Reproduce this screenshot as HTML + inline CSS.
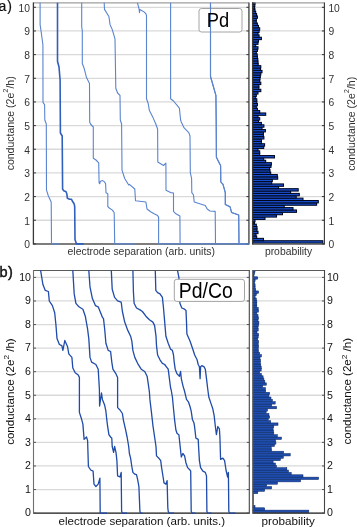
<!DOCTYPE html>
<html><head><meta charset="utf-8"><style>
html,body{margin:0;padding:0;background:#fff;}
svg{display:block;font-family:'Liberation Sans', sans-serif;will-change:transform;}
</style></head><body>
<svg width="357" height="527" viewBox="0 0 357 527">
<rect width="357" height="527" fill="#fff"/>
<line x1="33.4" y1="243.90" x2="248.9" y2="243.90" stroke="#d9d9d9" stroke-width="1.3"/>
<line x1="252.6" y1="243.90" x2="324.4" y2="243.90" stroke="#d9d9d9" stroke-width="1.3"/>
<line x1="33.4" y1="220.24" x2="248.9" y2="220.24" stroke="#d9d9d9" stroke-width="1.3"/>
<line x1="252.6" y1="220.24" x2="324.4" y2="220.24" stroke="#d9d9d9" stroke-width="1.3"/>
<line x1="33.4" y1="196.58" x2="248.9" y2="196.58" stroke="#d9d9d9" stroke-width="1.3"/>
<line x1="252.6" y1="196.58" x2="324.4" y2="196.58" stroke="#d9d9d9" stroke-width="1.3"/>
<line x1="33.4" y1="172.92" x2="248.9" y2="172.92" stroke="#d9d9d9" stroke-width="1.3"/>
<line x1="252.6" y1="172.92" x2="324.4" y2="172.92" stroke="#d9d9d9" stroke-width="1.3"/>
<line x1="33.4" y1="149.26" x2="248.9" y2="149.26" stroke="#d9d9d9" stroke-width="1.3"/>
<line x1="252.6" y1="149.26" x2="324.4" y2="149.26" stroke="#d9d9d9" stroke-width="1.3"/>
<line x1="33.4" y1="125.60" x2="248.9" y2="125.60" stroke="#d9d9d9" stroke-width="1.3"/>
<line x1="252.6" y1="125.60" x2="324.4" y2="125.60" stroke="#d9d9d9" stroke-width="1.3"/>
<line x1="33.4" y1="101.94" x2="248.9" y2="101.94" stroke="#d9d9d9" stroke-width="1.3"/>
<line x1="252.6" y1="101.94" x2="324.4" y2="101.94" stroke="#d9d9d9" stroke-width="1.3"/>
<line x1="33.4" y1="78.28" x2="248.9" y2="78.28" stroke="#d9d9d9" stroke-width="1.3"/>
<line x1="252.6" y1="78.28" x2="324.4" y2="78.28" stroke="#d9d9d9" stroke-width="1.3"/>
<line x1="33.4" y1="54.62" x2="248.9" y2="54.62" stroke="#d9d9d9" stroke-width="1.3"/>
<line x1="252.6" y1="54.62" x2="324.4" y2="54.62" stroke="#d9d9d9" stroke-width="1.3"/>
<line x1="33.4" y1="30.96" x2="248.9" y2="30.96" stroke="#d9d9d9" stroke-width="1.3"/>
<line x1="252.6" y1="30.96" x2="324.4" y2="30.96" stroke="#d9d9d9" stroke-width="1.3"/>
<line x1="33.4" y1="7.30" x2="248.9" y2="7.30" stroke="#d9d9d9" stroke-width="1.3"/>
<line x1="252.6" y1="7.30" x2="324.4" y2="7.30" stroke="#d9d9d9" stroke-width="1.3"/>
<rect x="252.60" y="240.73" width="70.20" height="2.37" fill="#1a4fd0" stroke="#000820" stroke-width="1.05"/>
<rect x="252.60" y="238.37" width="10.90" height="2.37" fill="#1a4fd0" stroke="#000820" stroke-width="1.05"/>
<rect x="252.60" y="236.00" width="4.10" height="2.37" fill="#1a4fd0" stroke="#000820" stroke-width="1.05"/>
<rect x="252.60" y="233.64" width="3.40" height="2.37" fill="#1a4fd0" stroke="#000820" stroke-width="1.05"/>
<rect x="252.60" y="231.27" width="5.40" height="2.37" fill="#1a4fd0" stroke="#000820" stroke-width="1.05"/>
<rect x="252.60" y="228.90" width="4.40" height="2.37" fill="#1a4fd0" stroke="#000820" stroke-width="1.05"/>
<rect x="252.60" y="226.54" width="4.40" height="2.37" fill="#1a4fd0" stroke="#000820" stroke-width="1.05"/>
<rect x="252.60" y="224.17" width="3.70" height="2.37" fill="#1a4fd0" stroke="#000820" stroke-width="1.05"/>
<rect x="252.60" y="221.81" width="1.90" height="2.37" fill="#1a4fd0" stroke="#000820" stroke-width="1.05"/>
<rect x="252.60" y="219.44" width="2.40" height="2.37" fill="#1a4fd0" stroke="#000820" stroke-width="1.05"/>
<rect x="252.60" y="217.07" width="12.40" height="2.37" fill="#1a4fd0" stroke="#000820" stroke-width="1.05"/>
<rect x="252.60" y="214.71" width="23.90" height="2.37" fill="#1a4fd0" stroke="#000820" stroke-width="1.05"/>
<rect x="252.60" y="212.34" width="29.90" height="2.37" fill="#1a4fd0" stroke="#000820" stroke-width="1.05"/>
<rect x="252.60" y="209.98" width="43.90" height="2.37" fill="#1a4fd0" stroke="#000820" stroke-width="1.05"/>
<rect x="252.60" y="207.61" width="40.40" height="2.37" fill="#1a4fd0" stroke="#000820" stroke-width="1.05"/>
<rect x="252.60" y="205.24" width="31.60" height="2.37" fill="#1a4fd0" stroke="#000820" stroke-width="1.05"/>
<rect x="252.60" y="202.88" width="64.00" height="2.37" fill="#1a4fd0" stroke="#000820" stroke-width="1.05"/>
<rect x="252.60" y="200.51" width="65.70" height="2.37" fill="#1a4fd0" stroke="#000820" stroke-width="1.05"/>
<rect x="252.60" y="198.15" width="50.40" height="2.37" fill="#1a4fd0" stroke="#000820" stroke-width="1.05"/>
<rect x="252.60" y="195.78" width="43.60" height="2.37" fill="#1a4fd0" stroke="#000820" stroke-width="1.05"/>
<rect x="252.60" y="193.41" width="46.70" height="2.37" fill="#1a4fd0" stroke="#000820" stroke-width="1.05"/>
<rect x="252.60" y="191.05" width="38.00" height="2.37" fill="#1a4fd0" stroke="#000820" stroke-width="1.05"/>
<rect x="252.60" y="188.68" width="45.60" height="2.37" fill="#1a4fd0" stroke="#000820" stroke-width="1.05"/>
<rect x="252.60" y="186.32" width="26.00" height="2.37" fill="#1a4fd0" stroke="#000820" stroke-width="1.05"/>
<rect x="252.60" y="183.95" width="30.90" height="2.37" fill="#1a4fd0" stroke="#000820" stroke-width="1.05"/>
<rect x="252.60" y="181.58" width="19.10" height="2.37" fill="#1a4fd0" stroke="#000820" stroke-width="1.05"/>
<rect x="252.60" y="179.22" width="19.70" height="2.37" fill="#1a4fd0" stroke="#000820" stroke-width="1.05"/>
<rect x="252.60" y="176.85" width="25.10" height="2.37" fill="#1a4fd0" stroke="#000820" stroke-width="1.05"/>
<rect x="252.60" y="174.49" width="24.70" height="2.37" fill="#1a4fd0" stroke="#000820" stroke-width="1.05"/>
<rect x="252.60" y="172.12" width="18.10" height="2.37" fill="#1a4fd0" stroke="#000820" stroke-width="1.05"/>
<rect x="252.60" y="169.75" width="17.40" height="2.37" fill="#1a4fd0" stroke="#000820" stroke-width="1.05"/>
<rect x="252.60" y="167.39" width="17.00" height="2.37" fill="#1a4fd0" stroke="#000820" stroke-width="1.05"/>
<rect x="252.60" y="165.02" width="18.40" height="2.37" fill="#1a4fd0" stroke="#000820" stroke-width="1.05"/>
<rect x="252.60" y="162.66" width="18.80" height="2.37" fill="#1a4fd0" stroke="#000820" stroke-width="1.05"/>
<rect x="252.60" y="160.29" width="13.10" height="2.37" fill="#1a4fd0" stroke="#000820" stroke-width="1.05"/>
<rect x="252.60" y="157.92" width="11.10" height="2.37" fill="#1a4fd0" stroke="#000820" stroke-width="1.05"/>
<rect x="252.60" y="155.56" width="21.90" height="2.37" fill="#1a4fd0" stroke="#000820" stroke-width="1.05"/>
<rect x="252.60" y="153.19" width="7.10" height="2.37" fill="#1a4fd0" stroke="#000820" stroke-width="1.05"/>
<rect x="252.60" y="150.83" width="7.10" height="2.37" fill="#1a4fd0" stroke="#000820" stroke-width="1.05"/>
<rect x="252.60" y="148.46" width="5.40" height="2.37" fill="#1a4fd0" stroke="#000820" stroke-width="1.05"/>
<rect x="252.60" y="146.09" width="11.10" height="2.37" fill="#1a4fd0" stroke="#000820" stroke-width="1.05"/>
<rect x="252.60" y="143.73" width="12.00" height="2.37" fill="#1a4fd0" stroke="#000820" stroke-width="1.05"/>
<rect x="252.60" y="141.36" width="8.80" height="2.37" fill="#1a4fd0" stroke="#000820" stroke-width="1.05"/>
<rect x="252.60" y="139.00" width="8.80" height="2.37" fill="#1a4fd0" stroke="#000820" stroke-width="1.05"/>
<rect x="252.60" y="136.63" width="11.30" height="2.37" fill="#1a4fd0" stroke="#000820" stroke-width="1.05"/>
<rect x="252.60" y="134.26" width="10.80" height="2.37" fill="#1a4fd0" stroke="#000820" stroke-width="1.05"/>
<rect x="252.60" y="131.90" width="10.80" height="2.37" fill="#1a4fd0" stroke="#000820" stroke-width="1.05"/>
<rect x="252.60" y="129.53" width="12.80" height="2.37" fill="#1a4fd0" stroke="#000820" stroke-width="1.05"/>
<rect x="252.60" y="127.17" width="9.40" height="2.37" fill="#1a4fd0" stroke="#000820" stroke-width="1.05"/>
<rect x="252.60" y="124.80" width="11.30" height="2.37" fill="#1a4fd0" stroke="#000820" stroke-width="1.05"/>
<rect x="252.60" y="122.43" width="8.80" height="2.37" fill="#1a4fd0" stroke="#000820" stroke-width="1.05"/>
<rect x="252.60" y="120.07" width="5.90" height="2.37" fill="#1a4fd0" stroke="#000820" stroke-width="1.05"/>
<rect x="252.60" y="117.70" width="7.10" height="2.37" fill="#1a4fd0" stroke="#000820" stroke-width="1.05"/>
<rect x="252.60" y="115.34" width="5.40" height="2.37" fill="#1a4fd0" stroke="#000820" stroke-width="1.05"/>
<rect x="252.60" y="112.97" width="13.10" height="2.37" fill="#1a4fd0" stroke="#000820" stroke-width="1.05"/>
<rect x="252.60" y="110.60" width="7.10" height="2.37" fill="#1a4fd0" stroke="#000820" stroke-width="1.05"/>
<rect x="252.60" y="108.24" width="4.80" height="2.37" fill="#1a4fd0" stroke="#000820" stroke-width="1.05"/>
<rect x="252.60" y="105.87" width="3.70" height="2.37" fill="#1a4fd0" stroke="#000820" stroke-width="1.05"/>
<rect x="252.60" y="103.51" width="4.80" height="2.37" fill="#1a4fd0" stroke="#000820" stroke-width="1.05"/>
<rect x="252.60" y="101.14" width="4.20" height="2.37" fill="#1a4fd0" stroke="#000820" stroke-width="1.05"/>
<rect x="252.60" y="98.77" width="4.20" height="2.37" fill="#1a4fd0" stroke="#000820" stroke-width="1.05"/>
<rect x="252.60" y="96.41" width="3.10" height="2.37" fill="#1a4fd0" stroke="#000820" stroke-width="1.05"/>
<rect x="252.60" y="94.04" width="3.70" height="2.37" fill="#1a4fd0" stroke="#000820" stroke-width="1.05"/>
<rect x="252.60" y="91.68" width="5.40" height="2.37" fill="#1a4fd0" stroke="#000820" stroke-width="1.05"/>
<rect x="252.60" y="89.31" width="8.20" height="2.37" fill="#1a4fd0" stroke="#000820" stroke-width="1.05"/>
<rect x="252.60" y="86.94" width="6.30" height="2.37" fill="#1a4fd0" stroke="#000820" stroke-width="1.05"/>
<rect x="252.60" y="84.58" width="6.30" height="2.37" fill="#1a4fd0" stroke="#000820" stroke-width="1.05"/>
<rect x="252.60" y="82.21" width="8.20" height="2.37" fill="#1a4fd0" stroke="#000820" stroke-width="1.05"/>
<rect x="252.60" y="79.85" width="7.10" height="2.37" fill="#1a4fd0" stroke="#000820" stroke-width="1.05"/>
<rect x="252.60" y="77.48" width="7.40" height="2.37" fill="#1a4fd0" stroke="#000820" stroke-width="1.05"/>
<rect x="252.60" y="75.11" width="7.70" height="2.37" fill="#1a4fd0" stroke="#000820" stroke-width="1.05"/>
<rect x="252.60" y="72.75" width="8.20" height="2.37" fill="#1a4fd0" stroke="#000820" stroke-width="1.05"/>
<rect x="252.60" y="70.38" width="9.40" height="2.37" fill="#1a4fd0" stroke="#000820" stroke-width="1.05"/>
<rect x="252.60" y="68.02" width="7.90" height="2.37" fill="#1a4fd0" stroke="#000820" stroke-width="1.05"/>
<rect x="252.60" y="65.65" width="8.20" height="2.37" fill="#1a4fd0" stroke="#000820" stroke-width="1.05"/>
<rect x="252.60" y="63.28" width="5.60" height="2.37" fill="#1a4fd0" stroke="#000820" stroke-width="1.05"/>
<rect x="252.60" y="60.92" width="5.40" height="2.37" fill="#1a4fd0" stroke="#000820" stroke-width="1.05"/>
<rect x="252.60" y="58.55" width="5.20" height="2.37" fill="#1a4fd0" stroke="#000820" stroke-width="1.05"/>
<rect x="252.60" y="56.19" width="4.80" height="2.37" fill="#1a4fd0" stroke="#000820" stroke-width="1.05"/>
<rect x="252.60" y="53.82" width="4.60" height="2.37" fill="#1a4fd0" stroke="#000820" stroke-width="1.05"/>
<rect x="252.60" y="51.45" width="3.70" height="2.37" fill="#1a4fd0" stroke="#000820" stroke-width="1.05"/>
<rect x="252.60" y="49.09" width="4.80" height="2.37" fill="#1a4fd0" stroke="#000820" stroke-width="1.05"/>
<rect x="252.60" y="46.72" width="5.40" height="2.37" fill="#1a4fd0" stroke="#000820" stroke-width="1.05"/>
<rect x="252.60" y="44.36" width="3.10" height="2.37" fill="#1a4fd0" stroke="#000820" stroke-width="1.05"/>
<rect x="252.60" y="41.99" width="5.40" height="2.37" fill="#1a4fd0" stroke="#000820" stroke-width="1.05"/>
<rect x="252.60" y="39.62" width="5.90" height="2.37" fill="#1a4fd0" stroke="#000820" stroke-width="1.05"/>
<rect x="252.60" y="37.26" width="8.80" height="2.37" fill="#1a4fd0" stroke="#000820" stroke-width="1.05"/>
<rect x="252.60" y="34.89" width="6.50" height="2.37" fill="#1a4fd0" stroke="#000820" stroke-width="1.05"/>
<rect x="252.60" y="32.53" width="5.40" height="2.37" fill="#1a4fd0" stroke="#000820" stroke-width="1.05"/>
<rect x="252.60" y="30.16" width="6.50" height="2.37" fill="#1a4fd0" stroke="#000820" stroke-width="1.05"/>
<rect x="252.60" y="27.79" width="7.10" height="2.37" fill="#1a4fd0" stroke="#000820" stroke-width="1.05"/>
<rect x="252.60" y="25.43" width="5.90" height="2.37" fill="#1a4fd0" stroke="#000820" stroke-width="1.05"/>
<rect x="252.60" y="23.06" width="4.80" height="2.37" fill="#1a4fd0" stroke="#000820" stroke-width="1.05"/>
<rect x="252.60" y="20.70" width="3.70" height="2.37" fill="#1a4fd0" stroke="#000820" stroke-width="1.05"/>
<rect x="252.60" y="18.33" width="3.70" height="2.37" fill="#1a4fd0" stroke="#000820" stroke-width="1.05"/>
<rect x="252.60" y="15.96" width="4.80" height="2.37" fill="#1a4fd0" stroke="#000820" stroke-width="1.05"/>
<rect x="252.60" y="13.60" width="4.00" height="2.37" fill="#1a4fd0" stroke="#000820" stroke-width="1.05"/>
<rect x="252.60" y="11.23" width="3.10" height="2.37" fill="#1a4fd0" stroke="#000820" stroke-width="1.05"/>
<rect x="252.60" y="8.87" width="2.40" height="2.37" fill="#1a4fd0" stroke="#000820" stroke-width="1.05"/>
<rect x="252.60" y="6.50" width="2.00" height="2.37" fill="#1a4fd0" stroke="#000820" stroke-width="1.05"/>
<rect x="252.60" y="4.13" width="2.20" height="2.37" fill="#1a4fd0" stroke="#000820" stroke-width="1.05"/>
<rect x="252.60" y="2.90" width="2.50" height="1.23" fill="#1a4fd0" stroke="#000820" stroke-width="1.05"/>
<line x1="33.4" y1="2.9" x2="248.9" y2="2.9" stroke="#888" stroke-width="1"/>
<line x1="33.4" y1="243.95" x2="248.9" y2="243.95" stroke="#5a5a5a" stroke-width="1.6"/>
<line x1="33.4" y1="2.4" x2="33.4" y2="244.54999999999998" stroke="#3a3a3a" stroke-width="1.3"/>
<line x1="248.9" y1="2.4" x2="248.9" y2="244.54999999999998" stroke="#707070" stroke-width="1.8"/>
<line x1="252.6" y1="2.9" x2="324.4" y2="2.9" stroke="#888" stroke-width="1"/>
<line x1="252.6" y1="243.95" x2="324.4" y2="243.95" stroke="#5a5a5a" stroke-width="1.6"/>
<line x1="252.6" y1="2.4" x2="252.6" y2="244.54999999999998" stroke="#3a3a3a" stroke-width="1.3"/>
<line x1="324.4" y1="2.4" x2="324.4" y2="244.54999999999998" stroke="#333" stroke-width="1.1"/>
<polyline points="40.10,2.80 40.10,24.70 41.00,30.60 42.90,44.70 43.00,102.40 44.60,104.70 44.80,120.00 46.30,124.00 46.50,190.20 48.40,196.00 51.20,202.00 51.50,243.90 59.20,243.90" fill="none" stroke="#5a84d0" stroke-width="1.1" stroke-linejoin="round" stroke-linecap="butt"/>
<polyline points="57.50,2.80 57.50,61.20 59.00,67.00 60.10,80.00 60.40,133.00 62.20,136.00 62.60,189.20 64.10,191.00 65.90,191.50 66.80,193.70 67.40,198.30 69.60,199.20 71.40,199.20 72.30,201.00 74.10,203.70 74.70,206.50 75.00,239.60 76.50,243.90 83.80,243.90" fill="none" stroke="#3060bc" stroke-width="1.6" stroke-linejoin="round" stroke-linecap="butt"/>
<polyline points="81.70,2.80 81.70,27.00 82.30,30.60 82.30,63.50 84.10,68.20 86.50,77.60 89.50,83.50 89.70,122.00 90.50,124.00 93.30,127.00 93.30,158.20 96.00,160.00 98.70,162.80 99.10,182.80 99.60,183.70 100.50,181.30 102.70,180.60 104.50,181.90 105.60,183.70 106.00,192.80 107.80,193.70 107.80,206.50 109.60,208.30 112.40,210.10 114.20,212.80 114.70,243.90 134.70,243.90" fill="none" stroke="#5a84d0" stroke-width="1.1" stroke-linejoin="round" stroke-linecap="butt"/>
<polyline points="104.20,2.80 104.50,9.40 108.90,16.50 110.10,24.70 112.20,29.40 115.00,38.80 115.80,88.20 117.60,93.00 120.00,95.30 120.30,120.00 121.60,124.00 122.00,170.20 124.70,178.50 128.70,185.00 129.40,184.40 134.80,189.00 135.50,200.80 145.90,202.00 147.00,209.00 150.60,211.80 154.10,213.80 157.60,215.60 158.60,217.30 158.60,243.90 180.00,243.90" fill="none" stroke="#5a84d0" stroke-width="1.1" stroke-linejoin="round" stroke-linecap="butt"/>
<polyline points="137.40,2.80 138.40,6.30 139.10,9.10 139.50,12.60 139.80,9.50 141.20,10.20 144.00,11.90 145.80,13.70 146.50,15.40 146.50,98.80 148.20,103.50 149.40,110.60 153.00,117.60 155.80,124.00 157.60,129.00 157.80,162.00 163.50,165.50 165.90,163.20 166.00,190.20 170.60,192.60 173.50,193.00 173.50,211.40 175.90,213.80 179.90,216.00 180.10,243.90 215.50,243.90" fill="none" stroke="#5a84d0" stroke-width="1.1" stroke-linejoin="round" stroke-linecap="butt"/>
<polyline points="170.60,2.80 170.60,98.80 173.50,101.00 179.40,108.20 180.60,120.00 181.30,122.00 184.10,127.90 188.80,132.60 190.00,136.00 190.30,172.60 191.60,178.50 191.80,192.60 193.50,195.00 194.20,202.00 205.30,205.50 207.20,209.00 210.00,211.00 215.20,211.40 215.50,243.90 238.80,243.90" fill="none" stroke="#5a84d0" stroke-width="1.1" stroke-linejoin="round" stroke-linecap="butt"/>
<polyline points="210.50,2.80 210.50,76.50 213.50,87.00 215.90,95.30 216.20,122.00 216.40,157.30 219.40,163.20 220.60,165.50 220.80,182.00 223.00,184.40 225.30,192.60 225.30,204.40 230.00,206.70 231.60,212.60 238.70,215.00 239.00,243.90 248.90,243.90" fill="none" stroke="#5a84d0" stroke-width="1.1" stroke-linejoin="round" stroke-linecap="butt"/>
<line x1="33.4" y1="243.90" x2="35.9" y2="243.90" stroke="#333" stroke-width="1"/>
<line x1="246.4" y1="243.90" x2="248.9" y2="243.90" stroke="#333" stroke-width="1"/>
<line x1="321.9" y1="243.90" x2="324.4" y2="243.90" stroke="#333" stroke-width="1"/>
<line x1="33.4" y1="220.24" x2="35.9" y2="220.24" stroke="#333" stroke-width="1"/>
<line x1="246.4" y1="220.24" x2="248.9" y2="220.24" stroke="#333" stroke-width="1"/>
<line x1="321.9" y1="220.24" x2="324.4" y2="220.24" stroke="#333" stroke-width="1"/>
<line x1="33.4" y1="196.58" x2="35.9" y2="196.58" stroke="#333" stroke-width="1"/>
<line x1="246.4" y1="196.58" x2="248.9" y2="196.58" stroke="#333" stroke-width="1"/>
<line x1="321.9" y1="196.58" x2="324.4" y2="196.58" stroke="#333" stroke-width="1"/>
<line x1="33.4" y1="172.92" x2="35.9" y2="172.92" stroke="#333" stroke-width="1"/>
<line x1="246.4" y1="172.92" x2="248.9" y2="172.92" stroke="#333" stroke-width="1"/>
<line x1="321.9" y1="172.92" x2="324.4" y2="172.92" stroke="#333" stroke-width="1"/>
<line x1="33.4" y1="149.26" x2="35.9" y2="149.26" stroke="#333" stroke-width="1"/>
<line x1="246.4" y1="149.26" x2="248.9" y2="149.26" stroke="#333" stroke-width="1"/>
<line x1="321.9" y1="149.26" x2="324.4" y2="149.26" stroke="#333" stroke-width="1"/>
<line x1="33.4" y1="125.60" x2="35.9" y2="125.60" stroke="#333" stroke-width="1"/>
<line x1="246.4" y1="125.60" x2="248.9" y2="125.60" stroke="#333" stroke-width="1"/>
<line x1="321.9" y1="125.60" x2="324.4" y2="125.60" stroke="#333" stroke-width="1"/>
<line x1="33.4" y1="101.94" x2="35.9" y2="101.94" stroke="#333" stroke-width="1"/>
<line x1="246.4" y1="101.94" x2="248.9" y2="101.94" stroke="#333" stroke-width="1"/>
<line x1="321.9" y1="101.94" x2="324.4" y2="101.94" stroke="#333" stroke-width="1"/>
<line x1="33.4" y1="78.28" x2="35.9" y2="78.28" stroke="#333" stroke-width="1"/>
<line x1="246.4" y1="78.28" x2="248.9" y2="78.28" stroke="#333" stroke-width="1"/>
<line x1="321.9" y1="78.28" x2="324.4" y2="78.28" stroke="#333" stroke-width="1"/>
<line x1="33.4" y1="54.62" x2="35.9" y2="54.62" stroke="#333" stroke-width="1"/>
<line x1="246.4" y1="54.62" x2="248.9" y2="54.62" stroke="#333" stroke-width="1"/>
<line x1="321.9" y1="54.62" x2="324.4" y2="54.62" stroke="#333" stroke-width="1"/>
<line x1="33.4" y1="30.96" x2="35.9" y2="30.96" stroke="#333" stroke-width="1"/>
<line x1="246.4" y1="30.96" x2="248.9" y2="30.96" stroke="#333" stroke-width="1"/>
<line x1="321.9" y1="30.96" x2="324.4" y2="30.96" stroke="#333" stroke-width="1"/>
<line x1="33.4" y1="7.30" x2="35.9" y2="7.30" stroke="#333" stroke-width="1"/>
<line x1="246.4" y1="7.30" x2="248.9" y2="7.30" stroke="#333" stroke-width="1"/>
<line x1="321.9" y1="7.30" x2="324.4" y2="7.30" stroke="#333" stroke-width="1"/>
<rect x="199" y="8.5" width="43.00" height="23.50" rx="2.5" fill="white" stroke="#9a9a9a" stroke-width="0.9"/>
<polyline points="210.50,2.80 210.50,76.50 213.50,87.00 215.90,95.30 216.20,122.00 216.40,157.30 219.40,163.20 220.60,165.50 220.80,182.00 223.00,184.40 225.30,192.60 225.30,204.40 230.00,206.70 231.60,212.60 238.70,215.00 239.00,243.90 248.90,243.90" fill="none" stroke="#5a84d0" stroke-width="1.1" stroke-linejoin="round"/>
<text x="206.8" y="27.3" font-size="21" textLength="22.4" lengthAdjust="spacingAndGlyphs" fill="#000">Pd</text>
<text transform="translate(30.0,248.35) scale(1.03,1)" font-size="10.0" text-anchor="end" fill="#333">0</text>
<text transform="translate(328.4,248.35) scale(1.03,1)" font-size="10.0" fill="#333">0</text>
<text transform="translate(30.0,224.69) scale(1.03,1)" font-size="10.0" text-anchor="end" fill="#333">1</text>
<text transform="translate(328.4,224.69) scale(1.03,1)" font-size="10.0" fill="#333">1</text>
<text transform="translate(30.0,201.03) scale(1.03,1)" font-size="10.0" text-anchor="end" fill="#333">2</text>
<text transform="translate(328.4,201.03) scale(1.03,1)" font-size="10.0" fill="#333">2</text>
<text transform="translate(30.0,177.37) scale(1.03,1)" font-size="10.0" text-anchor="end" fill="#333">3</text>
<text transform="translate(328.4,177.37) scale(1.03,1)" font-size="10.0" fill="#333">3</text>
<text transform="translate(30.0,153.71) scale(1.03,1)" font-size="10.0" text-anchor="end" fill="#333">4</text>
<text transform="translate(328.4,153.71) scale(1.03,1)" font-size="10.0" fill="#333">4</text>
<text transform="translate(30.0,130.05) scale(1.03,1)" font-size="10.0" text-anchor="end" fill="#333">5</text>
<text transform="translate(328.4,130.05) scale(1.03,1)" font-size="10.0" fill="#333">5</text>
<text transform="translate(30.0,106.39) scale(1.03,1)" font-size="10.0" text-anchor="end" fill="#333">6</text>
<text transform="translate(328.4,106.39) scale(1.03,1)" font-size="10.0" fill="#333">6</text>
<text transform="translate(30.0,82.73) scale(1.03,1)" font-size="10.0" text-anchor="end" fill="#333">7</text>
<text transform="translate(328.4,82.73) scale(1.03,1)" font-size="10.0" fill="#333">7</text>
<text transform="translate(30.0,59.07) scale(1.03,1)" font-size="10.0" text-anchor="end" fill="#333">8</text>
<text transform="translate(328.4,59.07) scale(1.03,1)" font-size="10.0" fill="#333">8</text>
<text transform="translate(30.0,35.41) scale(1.03,1)" font-size="10.0" text-anchor="end" fill="#333">9</text>
<text transform="translate(328.4,35.41) scale(1.03,1)" font-size="10.0" fill="#333">9</text>
<text transform="translate(30.0,11.75) scale(1.03,1)" font-size="10.0" text-anchor="end" fill="#333">10</text>
<text transform="translate(328.4,11.75) scale(1.03,1)" font-size="10.0" fill="#333">10</text>
<text x="67.5" y="255.4" font-size="10.5" textLength="147.5" lengthAdjust="spacingAndGlyphs" fill="#333">electrode separation (arb. units)</text>
<text x="264.9" y="255.4" font-size="10.3" textLength="47.3" lengthAdjust="spacingAndGlyphs" fill="#333">probability</text>
<text transform="translate(14.3,170.3) rotate(-90)" font-size="10.9" textLength="94" lengthAdjust="spacingAndGlyphs" fill="#333">conductance (2e<tspan dy="-6.0" font-size="7.85">2</tspan><tspan dy="6.0">/h)</tspan></text>
<text transform="translate(354.8,170.8) rotate(-90)" font-size="10.9" textLength="94" lengthAdjust="spacingAndGlyphs" fill="#333">conductance (2e<tspan dy="-6.0" font-size="7.85">2</tspan><tspan dy="6.0">/h)</tspan></text>
<text x="-1.6" y="10.8" font-size="14" letter-spacing="1.0" fill="#111" stroke="#111" stroke-width="0.2">a)</text>
<line x1="33.5" y1="513.10" x2="249.3" y2="513.10" stroke="#d9d9d9" stroke-width="1.3"/>
<line x1="252.6" y1="513.10" x2="324.5" y2="513.10" stroke="#d9d9d9" stroke-width="1.3"/>
<line x1="33.5" y1="489.53" x2="249.3" y2="489.53" stroke="#d9d9d9" stroke-width="1.3"/>
<line x1="252.6" y1="489.53" x2="324.5" y2="489.53" stroke="#d9d9d9" stroke-width="1.3"/>
<line x1="33.5" y1="465.96" x2="249.3" y2="465.96" stroke="#d9d9d9" stroke-width="1.3"/>
<line x1="252.6" y1="465.96" x2="324.5" y2="465.96" stroke="#d9d9d9" stroke-width="1.3"/>
<line x1="33.5" y1="442.39" x2="249.3" y2="442.39" stroke="#d9d9d9" stroke-width="1.3"/>
<line x1="252.6" y1="442.39" x2="324.5" y2="442.39" stroke="#d9d9d9" stroke-width="1.3"/>
<line x1="33.5" y1="418.82" x2="249.3" y2="418.82" stroke="#d9d9d9" stroke-width="1.3"/>
<line x1="252.6" y1="418.82" x2="324.5" y2="418.82" stroke="#d9d9d9" stroke-width="1.3"/>
<line x1="33.5" y1="395.25" x2="249.3" y2="395.25" stroke="#d9d9d9" stroke-width="1.3"/>
<line x1="252.6" y1="395.25" x2="324.5" y2="395.25" stroke="#d9d9d9" stroke-width="1.3"/>
<line x1="33.5" y1="371.68" x2="249.3" y2="371.68" stroke="#d9d9d9" stroke-width="1.3"/>
<line x1="252.6" y1="371.68" x2="324.5" y2="371.68" stroke="#d9d9d9" stroke-width="1.3"/>
<line x1="33.5" y1="348.11" x2="249.3" y2="348.11" stroke="#d9d9d9" stroke-width="1.3"/>
<line x1="252.6" y1="348.11" x2="324.5" y2="348.11" stroke="#d9d9d9" stroke-width="1.3"/>
<line x1="33.5" y1="324.54" x2="249.3" y2="324.54" stroke="#d9d9d9" stroke-width="1.3"/>
<line x1="252.6" y1="324.54" x2="324.5" y2="324.54" stroke="#d9d9d9" stroke-width="1.3"/>
<line x1="33.5" y1="300.97" x2="249.3" y2="300.97" stroke="#d9d9d9" stroke-width="1.3"/>
<line x1="252.6" y1="300.97" x2="324.5" y2="300.97" stroke="#d9d9d9" stroke-width="1.3"/>
<line x1="33.5" y1="277.40" x2="249.3" y2="277.40" stroke="#d9d9d9" stroke-width="1.3"/>
<line x1="252.6" y1="277.40" x2="324.5" y2="277.40" stroke="#d9d9d9" stroke-width="1.3"/>
<rect x="252.60" y="510.14" width="56.20" height="2.36" fill="#1f4eae" stroke="#0d2a68" stroke-width="0.55"/>
<rect x="252.60" y="507.79" width="12.10" height="2.36" fill="#1f4eae" stroke="#0d2a68" stroke-width="0.55"/>
<rect x="252.60" y="505.43" width="2.40" height="2.36" fill="#1f4eae" stroke="#0d2a68" stroke-width="0.55"/>
<rect x="252.60" y="503.07" width="0.70" height="2.36" fill="#1f4eae" stroke="#0d2a68" stroke-width="0.55"/>
<rect x="252.60" y="500.71" width="0.70" height="2.36" fill="#1f4eae" stroke="#0d2a68" stroke-width="0.55"/>
<rect x="252.60" y="498.36" width="0.70" height="2.36" fill="#1f4eae" stroke="#0d2a68" stroke-width="0.55"/>
<rect x="252.60" y="496.00" width="0.70" height="2.36" fill="#1f4eae" stroke="#0d2a68" stroke-width="0.55"/>
<rect x="252.60" y="493.64" width="0.70" height="2.36" fill="#1f4eae" stroke="#0d2a68" stroke-width="0.55"/>
<rect x="252.60" y="491.29" width="5.20" height="2.36" fill="#1f4eae" stroke="#0d2a68" stroke-width="0.55"/>
<rect x="252.60" y="488.93" width="12.10" height="2.36" fill="#1f4eae" stroke="#0d2a68" stroke-width="0.55"/>
<rect x="252.60" y="486.57" width="19.00" height="2.36" fill="#1f4eae" stroke="#0d2a68" stroke-width="0.55"/>
<rect x="252.60" y="484.22" width="14.10" height="2.36" fill="#1f4eae" stroke="#0d2a68" stroke-width="0.55"/>
<rect x="252.60" y="481.86" width="24.90" height="2.36" fill="#1f4eae" stroke="#0d2a68" stroke-width="0.55"/>
<rect x="252.60" y="479.50" width="48.00" height="2.36" fill="#1f4eae" stroke="#0d2a68" stroke-width="0.55"/>
<rect x="252.60" y="477.14" width="66.00" height="2.36" fill="#1f4eae" stroke="#0d2a68" stroke-width="0.55"/>
<rect x="252.60" y="474.79" width="50.40" height="2.36" fill="#1f4eae" stroke="#0d2a68" stroke-width="0.55"/>
<rect x="252.60" y="472.43" width="38.60" height="2.36" fill="#1f4eae" stroke="#0d2a68" stroke-width="0.55"/>
<rect x="252.60" y="470.07" width="35.90" height="2.36" fill="#1f4eae" stroke="#0d2a68" stroke-width="0.55"/>
<rect x="252.60" y="467.72" width="34.20" height="2.36" fill="#1f4eae" stroke="#0d2a68" stroke-width="0.55"/>
<rect x="252.60" y="465.36" width="23.90" height="2.36" fill="#1f4eae" stroke="#0d2a68" stroke-width="0.55"/>
<rect x="252.60" y="463.00" width="22.90" height="2.36" fill="#1f4eae" stroke="#0d2a68" stroke-width="0.55"/>
<rect x="252.60" y="460.65" width="20.50" height="2.36" fill="#1f4eae" stroke="#0d2a68" stroke-width="0.55"/>
<rect x="252.60" y="458.29" width="27.80" height="2.36" fill="#1f4eae" stroke="#0d2a68" stroke-width="0.55"/>
<rect x="252.60" y="455.93" width="30.70" height="2.36" fill="#1f4eae" stroke="#0d2a68" stroke-width="0.55"/>
<rect x="252.60" y="453.57" width="37.60" height="2.36" fill="#1f4eae" stroke="#0d2a68" stroke-width="0.55"/>
<rect x="252.60" y="451.22" width="31.10" height="2.36" fill="#1f4eae" stroke="#0d2a68" stroke-width="0.55"/>
<rect x="252.60" y="448.86" width="19.00" height="2.36" fill="#1f4eae" stroke="#0d2a68" stroke-width="0.55"/>
<rect x="252.60" y="446.50" width="18.60" height="2.36" fill="#1f4eae" stroke="#0d2a68" stroke-width="0.55"/>
<rect x="252.60" y="444.15" width="21.90" height="2.36" fill="#1f4eae" stroke="#0d2a68" stroke-width="0.55"/>
<rect x="252.60" y="441.79" width="23.30" height="2.36" fill="#1f4eae" stroke="#0d2a68" stroke-width="0.55"/>
<rect x="252.60" y="439.43" width="22.90" height="2.36" fill="#1f4eae" stroke="#0d2a68" stroke-width="0.55"/>
<rect x="252.60" y="437.08" width="28.90" height="2.36" fill="#1f4eae" stroke="#0d2a68" stroke-width="0.55"/>
<rect x="252.60" y="434.72" width="24.70" height="2.36" fill="#1f4eae" stroke="#0d2a68" stroke-width="0.55"/>
<rect x="252.60" y="432.36" width="21.20" height="2.36" fill="#1f4eae" stroke="#0d2a68" stroke-width="0.55"/>
<rect x="252.60" y="430.00" width="20.90" height="2.36" fill="#1f4eae" stroke="#0d2a68" stroke-width="0.55"/>
<rect x="252.60" y="427.65" width="20.50" height="2.36" fill="#1f4eae" stroke="#0d2a68" stroke-width="0.55"/>
<rect x="252.60" y="425.29" width="21.20" height="2.36" fill="#1f4eae" stroke="#0d2a68" stroke-width="0.55"/>
<rect x="252.60" y="422.93" width="25.40" height="2.36" fill="#1f4eae" stroke="#0d2a68" stroke-width="0.55"/>
<rect x="252.60" y="420.58" width="18.10" height="2.36" fill="#1f4eae" stroke="#0d2a68" stroke-width="0.55"/>
<rect x="252.60" y="418.22" width="15.60" height="2.36" fill="#1f4eae" stroke="#0d2a68" stroke-width="0.55"/>
<rect x="252.60" y="415.86" width="17.00" height="2.36" fill="#1f4eae" stroke="#0d2a68" stroke-width="0.55"/>
<rect x="252.60" y="413.51" width="16.30" height="2.36" fill="#1f4eae" stroke="#0d2a68" stroke-width="0.55"/>
<rect x="252.60" y="411.15" width="13.50" height="2.36" fill="#1f4eae" stroke="#0d2a68" stroke-width="0.55"/>
<rect x="252.60" y="408.79" width="14.90" height="2.36" fill="#1f4eae" stroke="#0d2a68" stroke-width="0.55"/>
<rect x="252.60" y="406.43" width="24.00" height="2.36" fill="#1f4eae" stroke="#0d2a68" stroke-width="0.55"/>
<rect x="252.60" y="404.08" width="19.10" height="2.36" fill="#1f4eae" stroke="#0d2a68" stroke-width="0.55"/>
<rect x="252.60" y="401.72" width="22.60" height="2.36" fill="#1f4eae" stroke="#0d2a68" stroke-width="0.55"/>
<rect x="252.60" y="399.36" width="19.80" height="2.36" fill="#1f4eae" stroke="#0d2a68" stroke-width="0.55"/>
<rect x="252.60" y="397.01" width="18.40" height="2.36" fill="#1f4eae" stroke="#0d2a68" stroke-width="0.55"/>
<rect x="252.60" y="394.65" width="16.30" height="2.36" fill="#1f4eae" stroke="#0d2a68" stroke-width="0.55"/>
<rect x="252.60" y="392.29" width="17.00" height="2.36" fill="#1f4eae" stroke="#0d2a68" stroke-width="0.55"/>
<rect x="252.60" y="389.94" width="13.10" height="2.36" fill="#1f4eae" stroke="#0d2a68" stroke-width="0.55"/>
<rect x="252.60" y="387.58" width="12.80" height="2.36" fill="#1f4eae" stroke="#0d2a68" stroke-width="0.55"/>
<rect x="252.60" y="385.22" width="10.00" height="2.36" fill="#1f4eae" stroke="#0d2a68" stroke-width="0.55"/>
<rect x="252.60" y="382.86" width="13.70" height="2.36" fill="#1f4eae" stroke="#0d2a68" stroke-width="0.55"/>
<rect x="252.60" y="380.51" width="12.20" height="2.36" fill="#1f4eae" stroke="#0d2a68" stroke-width="0.55"/>
<rect x="252.60" y="378.15" width="11.30" height="2.36" fill="#1f4eae" stroke="#0d2a68" stroke-width="0.55"/>
<rect x="252.60" y="375.79" width="10.50" height="2.36" fill="#1f4eae" stroke="#0d2a68" stroke-width="0.55"/>
<rect x="252.60" y="373.44" width="8.80" height="2.36" fill="#1f4eae" stroke="#0d2a68" stroke-width="0.55"/>
<rect x="252.60" y="371.08" width="7.10" height="2.36" fill="#1f4eae" stroke="#0d2a68" stroke-width="0.55"/>
<rect x="252.60" y="368.72" width="8.60" height="2.36" fill="#1f4eae" stroke="#0d2a68" stroke-width="0.55"/>
<rect x="252.60" y="366.37" width="8.60" height="2.36" fill="#1f4eae" stroke="#0d2a68" stroke-width="0.55"/>
<rect x="252.60" y="364.01" width="8.20" height="2.36" fill="#1f4eae" stroke="#0d2a68" stroke-width="0.55"/>
<rect x="252.60" y="361.65" width="7.70" height="2.36" fill="#1f4eae" stroke="#0d2a68" stroke-width="0.55"/>
<rect x="252.60" y="359.29" width="7.90" height="2.36" fill="#1f4eae" stroke="#0d2a68" stroke-width="0.55"/>
<rect x="252.60" y="356.94" width="7.40" height="2.36" fill="#1f4eae" stroke="#0d2a68" stroke-width="0.55"/>
<rect x="252.60" y="354.58" width="8.80" height="2.36" fill="#1f4eae" stroke="#0d2a68" stroke-width="0.55"/>
<rect x="252.60" y="352.22" width="7.10" height="2.36" fill="#1f4eae" stroke="#0d2a68" stroke-width="0.55"/>
<rect x="252.60" y="349.87" width="5.90" height="2.36" fill="#1f4eae" stroke="#0d2a68" stroke-width="0.55"/>
<rect x="252.60" y="347.51" width="5.60" height="2.36" fill="#1f4eae" stroke="#0d2a68" stroke-width="0.55"/>
<rect x="252.60" y="345.15" width="5.90" height="2.36" fill="#1f4eae" stroke="#0d2a68" stroke-width="0.55"/>
<rect x="252.60" y="342.80" width="5.60" height="2.36" fill="#1f4eae" stroke="#0d2a68" stroke-width="0.55"/>
<rect x="252.60" y="340.44" width="5.90" height="2.36" fill="#1f4eae" stroke="#0d2a68" stroke-width="0.55"/>
<rect x="252.60" y="338.08" width="5.10" height="2.36" fill="#1f4eae" stroke="#0d2a68" stroke-width="0.55"/>
<rect x="252.60" y="335.72" width="5.60" height="2.36" fill="#1f4eae" stroke="#0d2a68" stroke-width="0.55"/>
<rect x="252.60" y="333.37" width="5.90" height="2.36" fill="#1f4eae" stroke="#0d2a68" stroke-width="0.55"/>
<rect x="252.60" y="331.01" width="4.40" height="2.36" fill="#1f4eae" stroke="#0d2a68" stroke-width="0.55"/>
<rect x="252.60" y="328.65" width="5.60" height="2.36" fill="#1f4eae" stroke="#0d2a68" stroke-width="0.55"/>
<rect x="252.60" y="326.30" width="5.40" height="2.36" fill="#1f4eae" stroke="#0d2a68" stroke-width="0.55"/>
<rect x="252.60" y="323.94" width="5.90" height="2.36" fill="#1f4eae" stroke="#0d2a68" stroke-width="0.55"/>
<rect x="252.60" y="321.58" width="6.30" height="2.36" fill="#1f4eae" stroke="#0d2a68" stroke-width="0.55"/>
<rect x="252.60" y="319.23" width="5.40" height="2.36" fill="#1f4eae" stroke="#0d2a68" stroke-width="0.55"/>
<rect x="252.60" y="316.87" width="5.90" height="2.36" fill="#1f4eae" stroke="#0d2a68" stroke-width="0.55"/>
<rect x="252.60" y="314.51" width="5.40" height="2.36" fill="#1f4eae" stroke="#0d2a68" stroke-width="0.55"/>
<rect x="252.60" y="312.15" width="4.20" height="2.36" fill="#1f4eae" stroke="#0d2a68" stroke-width="0.55"/>
<rect x="252.60" y="309.80" width="5.90" height="2.36" fill="#1f4eae" stroke="#0d2a68" stroke-width="0.55"/>
<rect x="252.60" y="307.44" width="5.60" height="2.36" fill="#1f4eae" stroke="#0d2a68" stroke-width="0.55"/>
<rect x="252.60" y="305.08" width="4.20" height="2.36" fill="#1f4eae" stroke="#0d2a68" stroke-width="0.55"/>
<rect x="252.60" y="302.73" width="4.20" height="2.36" fill="#1f4eae" stroke="#0d2a68" stroke-width="0.55"/>
<rect x="252.60" y="300.37" width="4.20" height="2.36" fill="#1f4eae" stroke="#0d2a68" stroke-width="0.55"/>
<rect x="252.60" y="298.01" width="3.70" height="2.36" fill="#1f4eae" stroke="#0d2a68" stroke-width="0.55"/>
<rect x="252.60" y="295.66" width="2.50" height="2.36" fill="#1f4eae" stroke="#0d2a68" stroke-width="0.55"/>
<rect x="252.60" y="293.30" width="3.70" height="2.36" fill="#1f4eae" stroke="#0d2a68" stroke-width="0.55"/>
<rect x="252.60" y="290.94" width="5.90" height="2.36" fill="#1f4eae" stroke="#0d2a68" stroke-width="0.55"/>
<rect x="252.60" y="288.58" width="3.10" height="2.36" fill="#1f4eae" stroke="#0d2a68" stroke-width="0.55"/>
<rect x="252.60" y="286.23" width="2.50" height="2.36" fill="#1f4eae" stroke="#0d2a68" stroke-width="0.55"/>
<rect x="252.60" y="283.87" width="2.50" height="2.36" fill="#1f4eae" stroke="#0d2a68" stroke-width="0.55"/>
<rect x="252.60" y="281.51" width="2.00" height="2.36" fill="#1f4eae" stroke="#0d2a68" stroke-width="0.55"/>
<rect x="252.60" y="279.16" width="2.50" height="2.36" fill="#1f4eae" stroke="#0d2a68" stroke-width="0.55"/>
<rect x="252.60" y="276.80" width="5.10" height="2.36" fill="#1f4eae" stroke="#0d2a68" stroke-width="0.55"/>
<rect x="252.60" y="274.44" width="1.40" height="2.36" fill="#1f4eae" stroke="#0d2a68" stroke-width="0.55"/>
<rect x="252.60" y="272.09" width="2.00" height="2.36" fill="#1f4eae" stroke="#0d2a68" stroke-width="0.55"/>
<rect x="252.60" y="270.50" width="2.40" height="1.59" fill="#1f4eae" stroke="#0d2a68" stroke-width="0.55"/>
<line x1="33.5" y1="270.5" x2="249.3" y2="270.5" stroke="#5a5a5a" stroke-width="1.1"/>
<line x1="33.5" y1="513.1" x2="249.3" y2="513.1" stroke="#222" stroke-width="1.4"/>
<line x1="33.5" y1="270.0" x2="33.5" y2="513.7" stroke="#707070" stroke-width="1.1"/>
<line x1="249.3" y1="270.0" x2="249.3" y2="513.7" stroke="#444" stroke-width="1.1"/>
<line x1="252.6" y1="270.5" x2="324.5" y2="270.5" stroke="#5a5a5a" stroke-width="1.1"/>
<line x1="252.6" y1="513.1" x2="324.5" y2="513.1" stroke="#222" stroke-width="1.4"/>
<line x1="252.6" y1="270.0" x2="252.6" y2="513.7" stroke="#707070" stroke-width="1.1"/>
<line x1="324.5" y1="270.0" x2="324.5" y2="513.7" stroke="#444" stroke-width="1.1"/>
<polyline points="40.60,270.40 42.90,284.50 45.30,290.40 48.40,291.50 49.30,301.00 52.40,305.60 54.70,312.70 55.90,324.50 57.00,338.60 59.40,344.50 61.80,345.60 62.90,350.40 64.80,340.50 67.60,346.80 68.80,353.90 71.90,357.40 72.80,368.00 75.20,372.70 78.20,375.00 79.40,377.40 79.40,412.40 81.30,418.20 82.90,424.10 84.10,439.40 86.50,437.00 87.60,440.60 88.40,466.50 90.70,470.00 93.10,471.20 94.00,484.10 95.90,486.50 98.20,484.10 99.90,478.20 100.20,513.10 107.00,513.10" fill="none" stroke="#1f4baa" stroke-width="1.3" stroke-linejoin="round" stroke-linecap="butt"/>
<polyline points="72.80,270.40 74.20,293.90 75.90,303.30 78.90,306.80 82.90,309.20 85.30,316.20 87.60,329.20 88.80,338.60 90.00,357.40 91.60,362.10 95.90,364.50 98.20,369.20 99.40,389.20 99.60,406.00 101.50,393.00 102.40,399.40 104.70,405.30 105.90,411.20 106.60,418.20 107.50,425.30 108.90,434.70 110.60,437.00 111.80,438.20 112.20,446.50 113.60,452.40 114.60,446.50 116.00,452.40 116.90,460.60 117.60,475.90 120.00,477.00 121.20,472.40 121.60,511.20 122.40,513.10 127.00,513.10" fill="none" stroke="#1f4baa" stroke-width="1.3" stroke-linejoin="round" stroke-linecap="butt"/>
<polyline points="88.80,270.40 90.00,286.80 92.40,298.60 95.40,305.60 98.20,306.80 100.10,311.50 102.50,317.40 103.50,318.60 104.70,329.20 105.90,343.30 108.20,350.40 110.60,351.50 111.80,362.10 112.90,369.20 116.00,373.90 117.60,377.40 117.60,407.60 120.00,410.00 122.40,413.50 123.50,420.60 125.40,428.80 127.10,437.00 128.70,446.50 129.40,453.50 130.60,458.20 131.80,466.50 132.90,472.40 134.80,474.20 136.50,474.70 137.60,479.40 138.90,486.50 139.90,511.20 140.50,513.10 142.50,513.10" fill="none" stroke="#1f4baa" stroke-width="1.3" stroke-linejoin="round" stroke-linecap="butt"/>
<polyline points="111.30,270.40 112.20,289.20 114.60,297.40 117.60,300.90 121.20,302.10 122.40,311.50 124.70,322.10 127.80,330.40 130.60,336.20 131.80,340.90 132.90,350.40 134.80,357.40 137.60,363.30 141.20,369.20 144.70,371.50 147.10,376.20 148.20,383.30 149.40,392.00 149.90,399.40 151.30,411.20 152.90,425.30 154.60,437.00 156.00,446.50 156.50,455.90 158.80,458.20 160.70,460.60 161.60,467.60 163.10,477.00 164.00,482.90 165.90,484.10 167.10,480.60 167.80,507.60 168.20,511.20 169.00,513.10 174.00,513.10" fill="none" stroke="#1f4baa" stroke-width="1.3" stroke-linejoin="round" stroke-linecap="butt"/>
<polyline points="132.90,270.40 133.40,291.50 134.10,303.30 136.50,308.00 140.00,309.90 142.40,311.50 145.90,316.20 149.40,319.80 152.90,322.10 154.60,325.60 156.00,336.20 156.50,345.60 157.60,355.00 160.00,359.80 162.40,363.30 164.70,364.50 166.40,366.80 168.20,369.20 169.40,378.60 170.60,388.00 171.20,390.00 172.40,397.00 173.50,408.80 174.70,420.60 175.90,430.00 177.10,433.50 178.90,434.70 179.90,444.10 181.30,457.00 182.90,453.50 184.60,455.90 186.00,463.00 187.60,467.60 190.00,470.00 190.70,471.20 191.20,511.20 192.00,513.10 195.50,513.10" fill="none" stroke="#1f4baa" stroke-width="1.3" stroke-linejoin="round" stroke-linecap="butt"/>
<polyline points="155.30,270.40 155.80,290.40 157.60,292.70 160.00,293.90 162.40,297.40 163.50,308.00 164.70,322.10 165.90,336.20 168.20,343.30 170.60,349.20 172.40,350.40 173.50,355.00 174.20,362.10 175.20,369.20 177.10,373.90 179.40,376.20 180.60,371.50 181.30,378.60 182.90,385.60 184.50,391.00 186.50,399.40 188.40,401.80 190.00,406.50 191.20,411.20 192.40,419.40 194.00,422.90 194.70,427.60 195.90,438.20 198.20,439.40 198.70,448.80 199.40,460.60 200.60,467.60 202.90,471.20 205.30,472.40 206.50,475.90 206.90,511.20 207.50,513.10 211.50,513.10" fill="none" stroke="#1f4baa" stroke-width="1.3" stroke-linejoin="round" stroke-linecap="butt"/>
<polyline points="177.50,270.40 178.90,277.40 179.40,290.00 179.90,303.30 181.80,308.00 184.60,309.20 186.00,310.40 186.50,322.10 186.90,333.90 190.00,341.00 192.40,348.00 194.70,355.00 197.10,359.80 198.20,364.50 199.40,366.80 200.10,378.60 200.60,366.80 201.80,365.60 204.10,366.80 205.30,369.20 206.50,378.60 207.60,388.00 208.80,397.00 211.20,404.10 212.80,408.80 214.20,415.90 215.20,425.30 216.40,434.70 217.80,426.50 219.40,428.80 219.90,437.00 220.60,459.40 222.90,458.20 224.60,460.60 226.00,470.00 227.60,477.00 228.40,472.40 228.80,511.20 229.50,513.10 235.50,513.10" fill="none" stroke="#1f4baa" stroke-width="1.3" stroke-linejoin="round" stroke-linecap="butt"/>
<line x1="33.5" y1="513.10" x2="36.0" y2="513.10" stroke="#555" stroke-width="1"/>
<line x1="246.8" y1="513.10" x2="249.3" y2="513.10" stroke="#555" stroke-width="1"/>
<line x1="322.0" y1="513.10" x2="324.5" y2="513.10" stroke="#555" stroke-width="1"/>
<line x1="33.5" y1="489.53" x2="36.0" y2="489.53" stroke="#555" stroke-width="1"/>
<line x1="246.8" y1="489.53" x2="249.3" y2="489.53" stroke="#555" stroke-width="1"/>
<line x1="322.0" y1="489.53" x2="324.5" y2="489.53" stroke="#555" stroke-width="1"/>
<line x1="33.5" y1="465.96" x2="36.0" y2="465.96" stroke="#555" stroke-width="1"/>
<line x1="246.8" y1="465.96" x2="249.3" y2="465.96" stroke="#555" stroke-width="1"/>
<line x1="322.0" y1="465.96" x2="324.5" y2="465.96" stroke="#555" stroke-width="1"/>
<line x1="33.5" y1="442.39" x2="36.0" y2="442.39" stroke="#555" stroke-width="1"/>
<line x1="246.8" y1="442.39" x2="249.3" y2="442.39" stroke="#555" stroke-width="1"/>
<line x1="322.0" y1="442.39" x2="324.5" y2="442.39" stroke="#555" stroke-width="1"/>
<line x1="33.5" y1="418.82" x2="36.0" y2="418.82" stroke="#555" stroke-width="1"/>
<line x1="246.8" y1="418.82" x2="249.3" y2="418.82" stroke="#555" stroke-width="1"/>
<line x1="322.0" y1="418.82" x2="324.5" y2="418.82" stroke="#555" stroke-width="1"/>
<line x1="33.5" y1="395.25" x2="36.0" y2="395.25" stroke="#555" stroke-width="1"/>
<line x1="246.8" y1="395.25" x2="249.3" y2="395.25" stroke="#555" stroke-width="1"/>
<line x1="322.0" y1="395.25" x2="324.5" y2="395.25" stroke="#555" stroke-width="1"/>
<line x1="33.5" y1="371.68" x2="36.0" y2="371.68" stroke="#555" stroke-width="1"/>
<line x1="246.8" y1="371.68" x2="249.3" y2="371.68" stroke="#555" stroke-width="1"/>
<line x1="322.0" y1="371.68" x2="324.5" y2="371.68" stroke="#555" stroke-width="1"/>
<line x1="33.5" y1="348.11" x2="36.0" y2="348.11" stroke="#555" stroke-width="1"/>
<line x1="246.8" y1="348.11" x2="249.3" y2="348.11" stroke="#555" stroke-width="1"/>
<line x1="322.0" y1="348.11" x2="324.5" y2="348.11" stroke="#555" stroke-width="1"/>
<line x1="33.5" y1="324.54" x2="36.0" y2="324.54" stroke="#555" stroke-width="1"/>
<line x1="246.8" y1="324.54" x2="249.3" y2="324.54" stroke="#555" stroke-width="1"/>
<line x1="322.0" y1="324.54" x2="324.5" y2="324.54" stroke="#555" stroke-width="1"/>
<line x1="33.5" y1="300.97" x2="36.0" y2="300.97" stroke="#555" stroke-width="1"/>
<line x1="246.8" y1="300.97" x2="249.3" y2="300.97" stroke="#555" stroke-width="1"/>
<line x1="322.0" y1="300.97" x2="324.5" y2="300.97" stroke="#555" stroke-width="1"/>
<line x1="33.5" y1="277.40" x2="36.0" y2="277.40" stroke="#555" stroke-width="1"/>
<line x1="246.8" y1="277.40" x2="249.3" y2="277.40" stroke="#555" stroke-width="1"/>
<line x1="322.0" y1="277.40" x2="324.5" y2="277.40" stroke="#555" stroke-width="1"/>
<rect x="174.3" y="279.3" width="70.20" height="22.10" rx="2.5" fill="white" stroke="#9a9a9a" stroke-width="0.9"/>
<text x="178.8" y="298.2" font-size="22.5" textLength="54.0" lengthAdjust="spacingAndGlyphs" fill="#000">Pd/Co</text>
<text transform="translate(31.0,516.40) scale(1.0,1)" font-size="10.6" text-anchor="end" fill="#111">0</text>
<text transform="translate(326.9,516.40) scale(1.0,1)" font-size="10.6" fill="#111">0</text>
<text transform="translate(31.0,492.83) scale(1.0,1)" font-size="10.6" text-anchor="end" fill="#111">1</text>
<text transform="translate(326.9,492.83) scale(1.0,1)" font-size="10.6" fill="#111">1</text>
<text transform="translate(31.0,469.26) scale(1.0,1)" font-size="10.6" text-anchor="end" fill="#111">2</text>
<text transform="translate(326.9,469.26) scale(1.0,1)" font-size="10.6" fill="#111">2</text>
<text transform="translate(31.0,445.69) scale(1.0,1)" font-size="10.6" text-anchor="end" fill="#111">3</text>
<text transform="translate(326.9,445.69) scale(1.0,1)" font-size="10.6" fill="#111">3</text>
<text transform="translate(31.0,422.12) scale(1.0,1)" font-size="10.6" text-anchor="end" fill="#111">4</text>
<text transform="translate(326.9,422.12) scale(1.0,1)" font-size="10.6" fill="#111">4</text>
<text transform="translate(31.0,398.55) scale(1.0,1)" font-size="10.6" text-anchor="end" fill="#111">5</text>
<text transform="translate(326.9,398.55) scale(1.0,1)" font-size="10.6" fill="#111">5</text>
<text transform="translate(31.0,374.98) scale(1.0,1)" font-size="10.6" text-anchor="end" fill="#111">6</text>
<text transform="translate(326.9,374.98) scale(1.0,1)" font-size="10.6" fill="#111">6</text>
<text transform="translate(31.0,351.41) scale(1.0,1)" font-size="10.6" text-anchor="end" fill="#111">7</text>
<text transform="translate(326.9,351.41) scale(1.0,1)" font-size="10.6" fill="#111">7</text>
<text transform="translate(31.0,327.84) scale(1.0,1)" font-size="10.6" text-anchor="end" fill="#111">8</text>
<text transform="translate(326.9,327.84) scale(1.0,1)" font-size="10.6" fill="#111">8</text>
<text transform="translate(31.0,304.27) scale(1.0,1)" font-size="10.6" text-anchor="end" fill="#111">9</text>
<text transform="translate(326.9,304.27) scale(1.0,1)" font-size="10.6" fill="#111">9</text>
<text transform="translate(31.0,280.70) scale(1.0,1)" font-size="10.6" text-anchor="end" fill="#111">10</text>
<text transform="translate(326.9,280.70) scale(1.0,1)" font-size="10.6" fill="#111">10</text>
<text x="58.6" y="524.7" font-size="10.4" textLength="166.5" lengthAdjust="spacingAndGlyphs" fill="#111">electrode separation (arb. units.)</text>
<text x="261.6" y="524.7" font-size="10.6" textLength="53.3" lengthAdjust="spacingAndGlyphs" fill="#111">probability</text>
<text transform="translate(14.0,444.8) rotate(-90)" font-size="10.6" textLength="106.5" lengthAdjust="spacingAndGlyphs" fill="#111">conductance (2e<tspan dy="-4.8" font-size="7.63">2</tspan><tspan dy="4.8"> /h)</tspan></text>
<text transform="translate(351.3,444.5) rotate(-90)" font-size="10.6" textLength="106.5" lengthAdjust="spacingAndGlyphs" fill="#111">conductance (2e<tspan dy="-4.8" font-size="7.63">2</tspan><tspan dy="4.8"> /h)</tspan></text>
<text x="-0.6" y="277.0" font-size="14.5" letter-spacing="0.6" fill="#111" stroke="#111" stroke-width="0.45">b)</text>
</svg>
</body></html>
